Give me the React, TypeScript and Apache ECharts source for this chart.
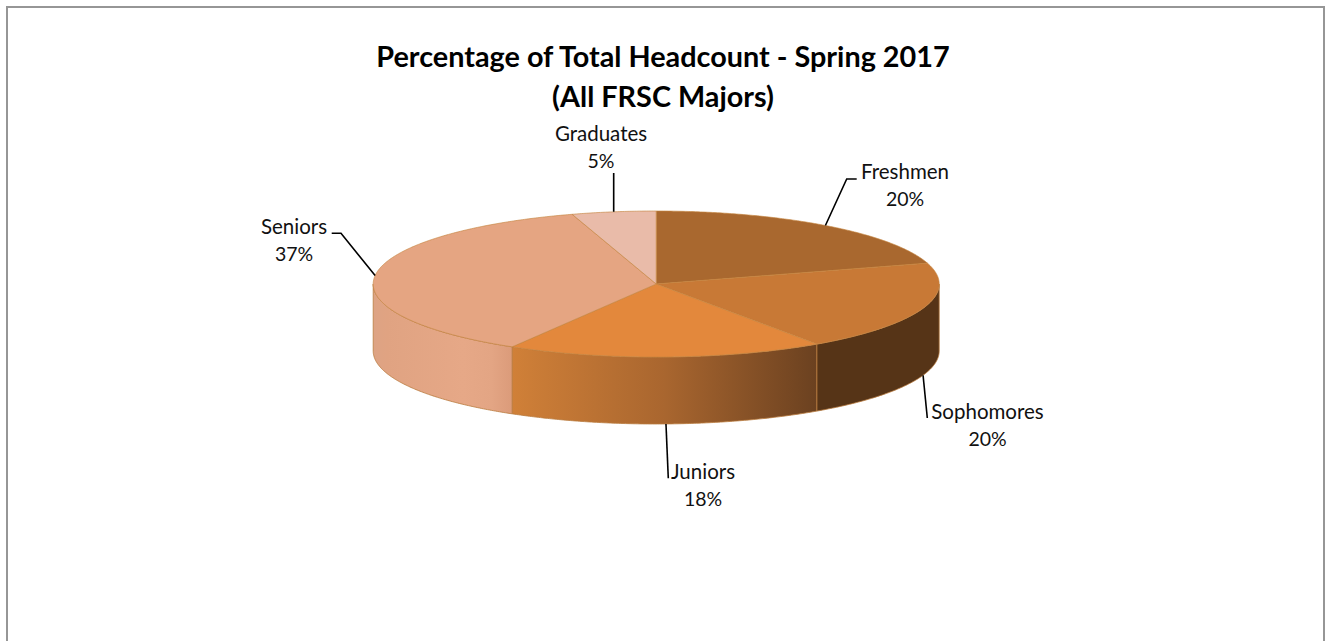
import React, { useEffect, useRef } from "react";
import * as echarts from "echarts";

const categories = ["Freshmen", "Sophomores", "Juniors", "Seniors", "Graduates"];
const shares = [20.4, 20.0, 18.1, 36.7, 4.8];
const titleText = "Percentage of Total Headcount - Spring 2017\n(All FRSC Majors)";

const topColors = ["#a9682f", "#c87936", "#e3883c", "#e5a582", "#e9bba9"];
const sideStops: [number, string][][] = [
  [[0, "#563417"], [1, "#563417"]],
  [[0, "#563417"], [1, "#563417"]],
  [[0, "#d08038"], [0.5, "#a9662f"], [1, "#6b4120"]],
  [[0, "#dda384"], [0.1, "#e0a382"], [0.65, "#e6a887"], [0.85, "#e3a584"], [1, "#db9b7a"]],
  [[0, "#e9bba9"], [1, "#e9bba9"]],
];

// Chart layout
const CX = 656.2;
const CY = 284;
const RX = 283;
const RY = 73;
const DEPTH = 67;
const FONT = "Lato, Carlito, Calibri, sans-serif";
const RIM = "#c5843f";

// Label centre and optional elbow for every leader line, in slice order
const labelLayout = [
  { x: 905, y: 184.5, from: [856.7, 179], elbow: [846.7, 179], side: false },
  { x: 987.5, y: 424.5, from: [927.3, 418], elbow: null, side: true },
  { x: 703, y: 484.5, from: [668.3, 478.3], elbow: null, side: true },
  { x: 294, y: 239.5, from: [331.7, 233.3], elbow: [341, 233.3], side: false },
  { x: 601, y: 146.5, from: [613.7, 173], elbow: null, side: false },
];

const rimPoint = (deg: number, dy = 0): [number, number] => {
  const t = (deg * Math.PI) / 180;
  return [CX + RX * Math.sin(t), CY - RY * Math.cos(t) + dy];
};

const arcPoints = (a: number, b: number, dy = 0) => {
  const pts: [number, number][] = [];
  const n = Math.max(2, Math.ceil(Math.abs(b - a) * 2));
  for (let i = 0; i <= n; i++) pts.push(rimPoint(a + ((b - a) * i) / n, dy));
  return pts;
};

const total = shares.reduce((s, v) => s + v, 0);
const startAngles = shares.map((_, i) =>
  (shares.slice(0, i).reduce((s, v) => s + v, 0) / total) * 360
);

function renderItem(params: any, api: any) {
  const i = params.dataIndex;
  const value = api.value(0);
  const a = startAngles[i];
  const b = a + (value / total) * 360;
  const children: any[] = [];

  // front wall
  const sa = Math.max(a, 90);
  const sb = Math.min(b, 270);
  if (sb > sa) {
    const points = [...arcPoints(sa, sb), ...arcPoints(sb, sa, DEPTH)];
    children.push({
      type: "polygon",
      shape: { points },
      style: {
        fill: {
          type: "linear", x: 0, y: 0, x2: 1, y2: 0,
          colorStops: sideStops[i].map(([offset, color]) => ({ offset, color })),
        },
        stroke: "#b97a3c",
        lineWidth: 0.8,
        lineJoin: "round",
      },
    });
  }

  // top face
  children.push({
    type: "polygon",
    shape: { points: [[CX, CY], ...arcPoints(a, b)] },
    style: { fill: topColors[i], stroke: RIM, lineWidth: 0.8, lineJoin: "round", strokeOpacity: 0.8 },
  });

  // leader line, anchored on the rim at the slice's middle angle
  const l = labelLayout[i];
  const mid = (a + b) / 2;
  const anchor = rimPoint(mid, l.side ? DEPTH : 0);
  const linePts = l.elbow ? [l.from, l.elbow, anchor] : [l.from, anchor];
  children.push({
    type: "polyline",
    shape: { points: linePts },
    style: { fill: "none", stroke: "#000", lineWidth: 1.6 },
  });
  children.push({
    type: "text",
    x: l.x,
    y: l.y,
    style: {
      text: `{n|${categories[i]}}\n{p|${Math.round(value)}%}`,
      rich: {
        n: { fontFamily: FONT, fontSize: 20.5, lineHeight: 27, fill: "#111" },
        p: { fontFamily: FONT, fontSize: 19.5, lineHeight: 27, fill: "#111" },
      },
      align: "center",
      verticalAlign: "middle",
    },
  });
  return { type: "group", children };
}

export default function App() {
  const ref = useRef<HTMLDivElement>(null);
  useEffect(() => {
    const chart = echarts.init(ref.current!, null, { renderer: "svg" });
    chart.setOption({
      animation: false,
      backgroundColor: "#fff",
      title: {
        text: titleText,
        left: 658,
        top: 31,
        textAlign: "center",
        textStyle: {
          fontFamily: FONT,
          fontSize: 28.8,
          fontWeight: "bold",
          color: "#000",
          lineHeight: 40,
        },
      },
      graphic: [
        {
          type: "rect",
          silent: true,
          z: -10,
          shape: { x: 7, y: 7, width: 1317, height: 660 },
          style: { fill: "#fff", stroke: "#969696", lineWidth: 2 },
        },
      ],
      series: [
        {
          type: "custom",
          coordinateSystem: "none",
          renderItem,
          data: shares.map((value, i) => ({ name: categories[i], value })),
        },
      ],
    });
    return () => chart.dispose();
  }, []);
  return (
    <div
      ref={ref}
      style={{ position: "fixed", left: 0, top: 0, width: 1325, height: 641 }}
    />
  );
}
